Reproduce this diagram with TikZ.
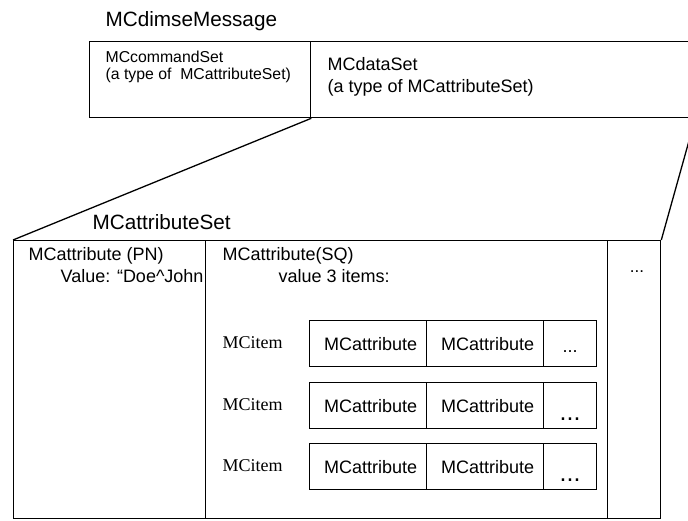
\documentclass[tikz,border=0pt]{standalone}
\usepackage{fontspec}
\setmainfont{Liberation Sans}
\newfontfamily\itemfont{Liberation Serif}
\begin{document}
\begin{tikzpicture}[x=1pt, y=-1pt, line width=1.3pt,
	box/.style={draw, rectangle, anchor=north west, inner sep=0pt},
	attrcell/.style={box, minimum width=117pt, minimum height=46pt, font=\fontsize{18}{22}\selectfont},
	dotcell/.style={box, minimum width=53pt, minimum height=46pt},
	txt/.style={anchor=north west, inner sep=0pt, align=left, font=\fontsize{18}{22}\selectfont},
	itemlabel/.style={anchor=west, inner sep=0pt, font=\itemfont\fontsize{18}{22}\selectfont}]
	\useasboundingbox (0,0) rectangle (688,521);
	\clip (0,0) rectangle (688,521);

	% the message
	\node[anchor=base west, inner sep=0pt, font=\fontsize{20.7}{24}\selectfont] (msgtitle) at (105,27) {MCdimseMessage};
	\node[box, minimum width=221pt, minimum height=76pt] (cmdset) at (89,41) {};
	\node[box, minimum width=384pt, minimum height=76pt] (dataset) at (310,41) {};
	\node[txt, font=\fontsize{15.8}{17.5}\selectfont] (cmdtext) at (105,50) {MCcommandSet\\(a type of\ \ MCattributeSet)};
	\node[txt] (datatext) at (327,57) {MCdataSet\\(a type of MCattributeSet)};

	% the attribute set
	\node[anchor=base west, inner sep=0pt, font=\fontsize{20.7}{24}\selectfont] (settitle) at (92,230) {MCattributeSet};
	\node[box, minimum width=192pt, minimum height=278pt] (pncell) at (13,240) {};
	\node[box, minimum width=402pt, minimum height=278pt] (sqcell) at (205,240) {};
	\node[box, minimum width=53pt, minimum height=278pt] (morecell) at (607,240) {};
	\node[txt] (pntext) at (28,247) {MCattribute (PN)\\\hspace*{32pt}Value: “Doe\textasciicircum John};
	\node[txt] (sqtext) at (222,247) {MCattribute(SQ)\\\hspace*{56pt}value 3 items:};
	\node[anchor=base, inner sep=0pt, font=\fontsize{17}{20}\selectfont] (moredots) at (637,273) {...};

	\draw (cmdset.south east) -- (pncell.north west);
	\draw (dataset.south east) -- (morecell.north east);

	% the items
	\node[itemlabel] (itemA) at (222,343) {MCitem};
	\node[attrcell] (attrA1) at (309,320) {\hspace*{5pt}MCattribute};
	\node[attrcell] (attrA2) at (426,320) {\hspace*{5pt}MCattribute};
	\node[dotcell] (dotsA) at (543,320) {};
	\node[anchor=base, inner sep=0pt, font=\fontsize{18}{22}\selectfont] at (dotsA.center) [yshift=-9pt] {...};

	\node[itemlabel] (itemB) at (222,405) {MCitem};
	\node[attrcell] (attrB1) at (309,382) {\hspace*{5pt}MCattribute};
	\node[attrcell] (attrB2) at (426,382) {\hspace*{5pt}MCattribute};
	\node[dotcell] (dotsB) at (543,382) {};
	\node[anchor=base, inner sep=0pt, font=\fontsize{25}{28}\selectfont] at (dotsB.center) [yshift=-15pt] {...};

	\node[itemlabel] (itemC) at (222,466) {MCitem};
	\node[attrcell] (attrC1) at (309,443) {\hspace*{5pt}MCattribute};
	\node[attrcell] (attrC2) at (426,443) {\hspace*{5pt}MCattribute};
	\node[dotcell] (dotsC) at (543,443) {};
	\node[anchor=base, inner sep=0pt, font=\fontsize{25}{28}\selectfont] at (dotsC.center) [yshift=-15pt] {...};
\end{tikzpicture}
\end{document}
